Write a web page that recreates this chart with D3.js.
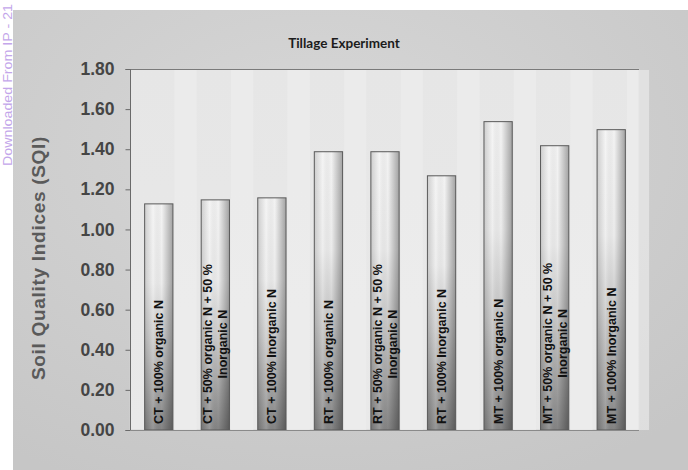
<!DOCTYPE html>
<html><head><meta charset="utf-8">
<script src="https://cdn.jsdelivr.net/npm/d3@7"></script>
<style>html,body{margin:0;padding:0;background:#fff;}svg{display:block;}</style>
</head><body>
<svg id="c" width="688" height="470"></svg>
<script>
const categories = [
  "CT + 100% organic N",
  "CT + 50% organic N + 50 % Inorganic N",
  "CT + 100% Inorganic N",
  "RT + 100% organic N",
  "RT + 50% organic N + 50 % Inorganic N",
  "RT + 100% Inorganic N",
  "MT + 100% organic N",
  "MT + 50% organic N + 50 % Inorganic N",
  "MT + 100% Inorganic N"
];
const labelLines = [
  ["CT + 100% organic N"],
  ["CT + 50% organic N + 50 %", "Inorganic N"],
  ["CT + 100% Inorganic N"],
  ["RT + 100% organic N"],
  ["RT + 50% organic N + 50 %", "Inorganic N"],
  ["RT + 100% Inorganic N"],
  ["MT + 100% organic N"],
  ["MT + 50% organic N + 50 %", "Inorganic N"],
  ["MT + 100% Inorganic N"]
];
const sqi = [1.13, 1.15, 1.16, 1.39, 1.39, 1.27, 1.54, 1.42, 1.50];
const yTicks = [0, 0.2, 0.4, 0.6, 0.8, 1.0, 1.2, 1.4, 1.6, 1.8];
const title = "Tillage Experiment";
const yTitle = "Soil Quality Indices (SQI)";
const watermark = "Downloaded From IP - 21";

const svg = d3.select("#c");
const defs = svg.append("defs");

const outerG = defs.append("radialGradient").attr("id","outerG").attr("cx","0.45").attr("cy","0.3").attr("r","0.8");
outerG.append("stop").attr("offset","0").attr("stop-color","#d7d7d7");
outerG.append("stop").attr("offset","1").attr("stop-color","#c6c6c6");

const plotG = defs.append("linearGradient").attr("id","plotG").attr("x1","0").attr("y1","0").attr("x2","0").attr("y2","1");
plotG.append("stop").attr("offset","0").attr("stop-color","#e6e6e6");
plotG.append("stop").attr("offset","1").attr("stop-color","#e9e9e9");

const barV = defs.append("linearGradient").attr("id","barV").attr("x1","0").attr("y1","0").attr("x2","0").attr("y2","1");
[[0,"#f3f3f3"],[0.35,"#ececec"],[0.6,"#cbcbcb"],[1,"#848484"]].forEach(s=>barV.append("stop").attr("offset",s[0]).attr("stop-color",s[1]));
const barH = defs.append("linearGradient").attr("id","barH").attr("x1","0").attr("y1","0").attr("x2","1").attr("y2","0");
[[0,"#000",0.15],[0.3,"#fff",0.15],[0.6,"#000",0.0],[1,"#000",0.33]].forEach(s=>barH.append("stop").attr("offset",s[0]).attr("stop-color",s[1]).attr("stop-opacity",s[2]));

// outer chart area
svg.append("rect").attr("x",13).attr("y",10).attr("width",675).attr("height",460).attr("fill","url(#outerG)");

// watermark
svg.append("text").attr("transform","translate(12,166) rotate(-90)")
  .attr("font-family","Liberation Sans, Arial, sans-serif").attr("font-size",13)
  .attr("textLength",162).attr("lengthAdjust","spacingAndGlyphs")
  .attr("fill","#c3a6ea").text(watermark);

const pLeft = 130, pRight = 639, pTop = 69, pBottom = 430;

const x = d3.scaleBand().domain(categories).range([pLeft, pRight]).paddingInner(0.5).paddingOuter(0.25);
const y = d3.scaleLinear().domain([0, 1.8]).range([pBottom, pTop]);

// plot area
svg.append("rect").attr("x",pLeft).attr("y",pTop).attr("width",pRight-pLeft).attr("height",pBottom-pTop)
  .attr("fill","url(#plotG)").attr("stroke","#d2d2d2").attr("stroke-width",1);
svg.append("line").attr("x1",pLeft).attr("x2",pRight).attr("y1",pTop+0.5).attr("y2",pTop+0.5).attr("stroke","#7a7a7a");

// subtle light bands beside bars
svg.selectAll("rect.band").data(categories).enter().append("rect")
  .attr("x", d => x(d) + x.bandwidth() + 2).attr("y", pTop+1)
  .attr("width", x.step()-x.bandwidth()-6).attr("height", pBottom-pTop-1)
  .attr("fill","#efefef").attr("opacity",0.6);

// bars
const bars = svg.append("g");
bars.selectAll("rect.b").data(categories).enter().append("rect")
  .attr("x", d => x(d)+0.5).attr("y", (d,i) => y(sqi[i])+0.5)
  .attr("width", x.bandwidth()).attr("height", (d,i) => pBottom - y(sqi[i]) - 0.5)
  .attr("fill","url(#barV)");
bars.selectAll("rect.h").data(categories).enter().append("rect")
  .attr("x", d => x(d)+0.5).attr("y", (d,i) => y(sqi[i])+0.5)
  .attr("width", x.bandwidth()).attr("height", (d,i) => pBottom - y(sqi[i]) - 0.5)
  .attr("fill","url(#barH)").attr("stroke","#5a5a5a").attr("stroke-width",1);

// y axis
const yAxis = d3.axisLeft(y).tickValues(yTicks).tickFormat(d3.format(".2f")).tickSize(5).tickPadding(11);
const ya = svg.append("g").attr("transform",`translate(${pLeft+0.5},0)`).call(yAxis);
ya.select(".domain").attr("stroke","#6a6a6a").attr("d",`M-5,${pTop+0.5}H0V${pBottom+0.5}H-5`);
ya.selectAll(".tick line").attr("stroke","#6a6a6a");
ya.selectAll(".tick text").attr("font-family","Liberation Sans, Arial, sans-serif").attr("font-weight","bold")
  .attr("font-size",17.5).attr("fill","#454545");
svg.append("line").attr("x1",pLeft).attr("x2",pRight).attr("y1",pBottom+0.5).attr("y2",pBottom+0.5).attr("stroke","#8a8a8a");

// labels inside bars
const lab = svg.append("g").attr("font-family","Liberation Sans, Arial, sans-serif").attr("font-weight","bold")
  .attr("font-size",12.5).attr("fill","#111");
categories.forEach((c,i) => {
  const cx = x(c) + x.bandwidth()/2 + 0.5;
  const lines = labelLines[i];
  const yStart = 424;
  if (lines.length === 1) {
    lab.append("text").attr("transform",`translate(${cx},${yStart}) rotate(-90)`)
      .attr("dy","0.36em").text(lines[0]);
  } else {
    const t1 = lab.append("text").attr("transform",`translate(${cx-7.5},${yStart}) rotate(-90)`)
      .attr("dy","0.36em").text(lines[0]);
    const len = t1.node().getComputedTextLength();
    lab.append("text").attr("transform",`translate(${cx+7.5},${yStart-len/2}) rotate(-90)`)
      .attr("dy","0.36em").attr("text-anchor","middle").text(lines[1]);
  }
});

// title
svg.append("text").attr("x",344).attr("y",48).attr("text-anchor","middle")
  .attr("font-family","Lato, Open Sans, sans-serif").attr("font-weight","bold").attr("font-size",13.5)
  .attr("fill","#1c1c1c").text(title);

// y title
svg.append("text").attr("transform","translate(45,258) rotate(-90)").attr("text-anchor","middle")
  .attr("font-family","Liberation Sans, Arial, sans-serif").attr("font-weight","bold").attr("font-size",19)
  .attr("letter-spacing",0.7).attr("fill","#5a5a5a").text(yTitle);
</script>
</body></html>
